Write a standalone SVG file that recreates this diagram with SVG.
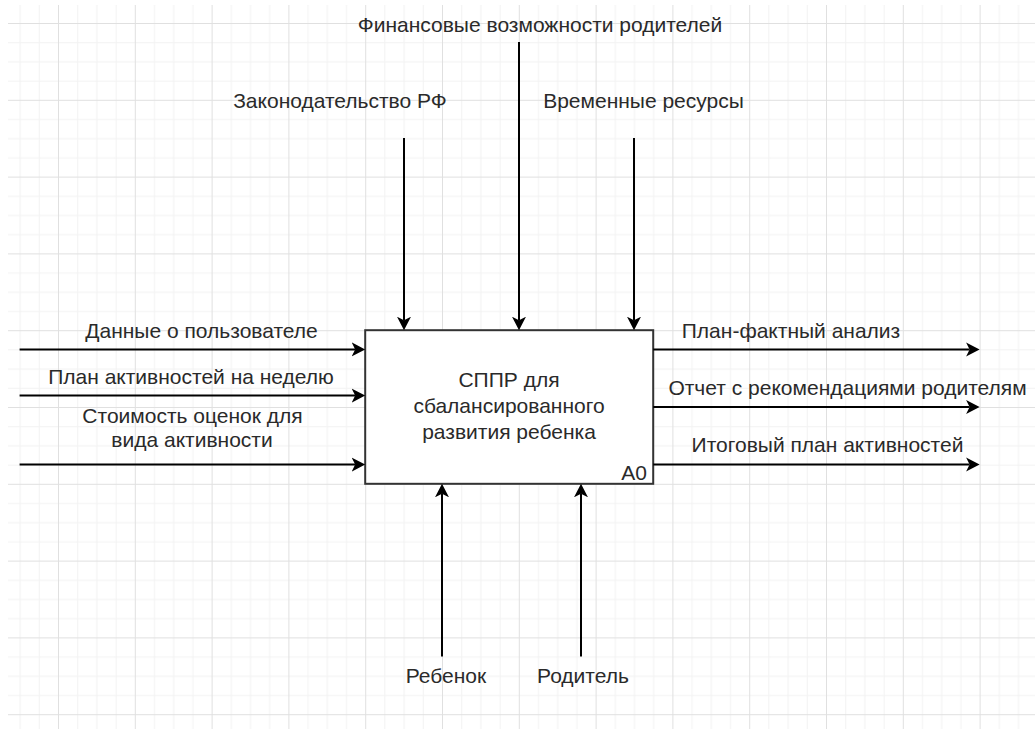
<svg xmlns="http://www.w3.org/2000/svg" width="1035" height="729" viewBox="0 0 1035 729">
<style>
.lbl{font-family:"Liberation Sans",Arial,sans-serif;font-size:21px;fill:#2a2a2a;text-anchor:middle}
.arr{stroke:#000;stroke-width:2;fill:none;marker-end:url(#ah)}
.box{fill:#fff;stroke:#333;stroke-width:2}
</style>
<defs>
<marker id="ah" markerUnits="userSpaceOnUse" markerWidth="14" markerHeight="15" viewBox="0 0 14 15" refX="3.5" refY="7.5" orient="auto">
<path d="M0,0.5 L13.5,7.5 L0,14.5 L3.5,7.5 Z" fill="#000"/>
</marker>
<pattern id="grid" patternUnits="userSpaceOnUse" x="-18.8" y="-53.8" width="76.8" height="76.8">
<rect x="19.2" y="0" width="1" height="76.8" fill="#f2f2f2"/>
<rect x="38.4" y="0" width="1" height="76.8" fill="#f2f2f2"/>
<rect x="57.6" y="0" width="1" height="76.8" fill="#f2f2f2"/>
<rect x="0" y="19.2" width="76.8" height="1" fill="#f2f2f2"/>
<rect x="0" y="38.4" width="76.8" height="1" fill="#f2f2f2"/>
<rect x="0" y="57.6" width="76.8" height="1" fill="#f2f2f2"/>
<rect x="0" y="0" width="1" height="76.8" fill="#e0e0e0"/>
<rect x="0" y="0" width="76.8" height="1" fill="#e0e0e0"/>
</pattern>
</defs>
<rect x="0" y="0" width="1035" height="729" fill="#fff"/>
<rect x="8" y="5" width="1027" height="724" fill="url(#grid)"/>

<g id="node-A0">
<rect class="box" x="365.2" y="330.2" width="288" height="153.6"/>
<text class="lbl" x="509" y="387">СППР для</text>
<text class="lbl" x="509" y="413">сбалансированного</text>
<text class="lbl" x="509" y="439">развития ребенка</text>
<text class="lbl" x="647" y="480" style="text-anchor:end">A0</text>
</g>

<g id="connectors">
<line class="arr" x1="404" y1="138" x2="404" y2="320.2"/>
<line class="arr" x1="519" y1="42" x2="519" y2="320.2"/>
<line class="arr" x1="634" y1="138" x2="634" y2="320.2"/>
<line class="arr" x1="19.6" y1="349.4" x2="355.2" y2="349.4"/>
<line class="arr" x1="19.6" y1="395.6" x2="355.2" y2="395.6"/>
<line class="arr" x1="19.6" y1="464.6" x2="355.2" y2="464.6"/>
<line class="arr" x1="653.2" y1="349.4" x2="969.6" y2="349.4"/>
<line class="arr" x1="653.2" y1="407" x2="969.6" y2="407"/>
<line class="arr" x1="653.2" y1="464.6" x2="969.6" y2="464.6"/>
<line class="arr" x1="442" y1="656.6" x2="442" y2="493.8"/>
<line class="arr" x1="581" y1="656.6" x2="581" y2="493.8"/>
</g>

<g id="labels">
<text class="lbl" x="540" y="32">Финансовые возможности родителей</text>
<text class="lbl" x="340" y="108">Законодательство РФ</text>
<text class="lbl" x="643.5" y="108">Временные ресурсы</text>
<text class="lbl" x="201.5" y="338">Данные о пользователе</text>
<text class="lbl" x="191" y="384">План активностей на неделю</text>
<text class="lbl" x="192.5" y="423">Стоимость оценок для</text>
<text class="lbl" x="192" y="447">вида активности</text>
<text class="lbl" x="791" y="338">План-фактный анализ</text>
<text class="lbl" x="847.5" y="395">Отчет с рекомендациями родителям</text>
<text class="lbl" x="827.5" y="452">Итоговый план активностей</text>
<text class="lbl" x="446" y="683">Ребенок</text>
<text class="lbl" x="583" y="683">Родитель</text>
</g>
</svg>
